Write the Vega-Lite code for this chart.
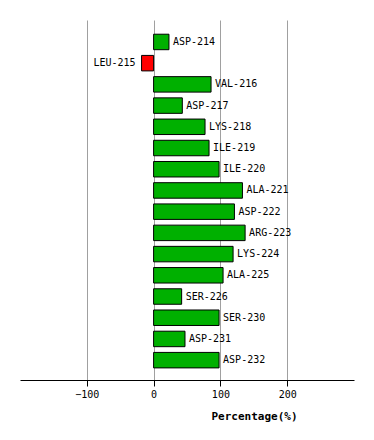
{
  "$schema": "https://vega.github.io/schema/vega-lite/v6.json",
  "width": 334,
  "height": 360,
  "autosize": {"type": "none"},
  "padding": {"left": 20, "top": 20, "right": 20, "bottom": 60},
  "background": "white",
  "config": {"view": {"stroke": null}, "font": "DejaVu Sans Mono"},
  "data": {"values": [
    {"residue": "ASP-214", "pct": 23},
    {"residue": "LEU-215", "pct": -18},
    {"residue": "VAL-216", "pct": 86},
    {"residue": "ASP-217", "pct": 43},
    {"residue": "LYS-218", "pct": 77},
    {"residue": "ILE-219", "pct": 83},
    {"residue": "ILE-220", "pct": 98},
    {"residue": "ALA-221", "pct": 133},
    {"residue": "ASP-222", "pct": 121},
    {"residue": "ARG-223", "pct": 137},
    {"residue": "LYS-224", "pct": 119},
    {"residue": "ALA-225", "pct": 104},
    {"residue": "SER-226", "pct": 42},
    {"residue": "SER-230", "pct": 98},
    {"residue": "ASP-231", "pct": 47},
    {"residue": "ASP-232", "pct": 98}
  ]},
  "encoding": {
    "y": {"field": "residue", "type": "nominal", "sort": null,
          "scale": {"paddingInner": 0.27, "paddingOuter": 0.62, "align": 0.54},
          "axis": null},
    "x": {"field": "pct", "type": "quantitative",
          "scale": {"domain": [-200, 300], "nice": false, "zero": false},
          "axis": {
            "values": [-100, 0, 100, 200],
            "title": "Percentage(%)",
            "titleFont": "DejaVu Sans Mono", "titleFontSize": 11, "titleFontWeight": "bold",
            "titleColor": "black", "titleX": 234, "titleY": 30, "titleAlign": "center", "titleBaseline": "top",
            "labelFont": "DejaVu Sans Mono", "labelFontSize": 10, "labelColor": "black",
            "labelPadding": 3,
            "domainColor": "black", "domainWidth": 1,
            "tickColor": "black", "tickSize": 6, "tickWidth": 1,
            "grid": true, "gridColor": "#a0a0a0", "gridWidth": 1
          }}
  },
  "layer": [
    {
      "mark": {"type": "bar", "stroke": "black", "strokeWidth": 1},
      "encoding": {
        "color": {
          "condition": {"test": "datum.pct < 0", "value": "#ff0000"},
          "value": "#00b000"
        }
      }
    },
    {
      "transform": [{"filter": "datum.pct >= 0"}],
      "mark": {"type": "text", "align": "left", "dx": 4, "fontSize": 10, "font": "DejaVu Sans Mono", "color": "black"},
      "encoding": {"text": {"field": "residue"}}
    },
    {
      "transform": [{"filter": "datum.pct < 0"}],
      "mark": {"type": "text", "align": "right", "dx": -6, "fontSize": 10, "font": "DejaVu Sans Mono", "color": "black"},
      "encoding": {"text": {"field": "residue"}}
    }
  ]
}
